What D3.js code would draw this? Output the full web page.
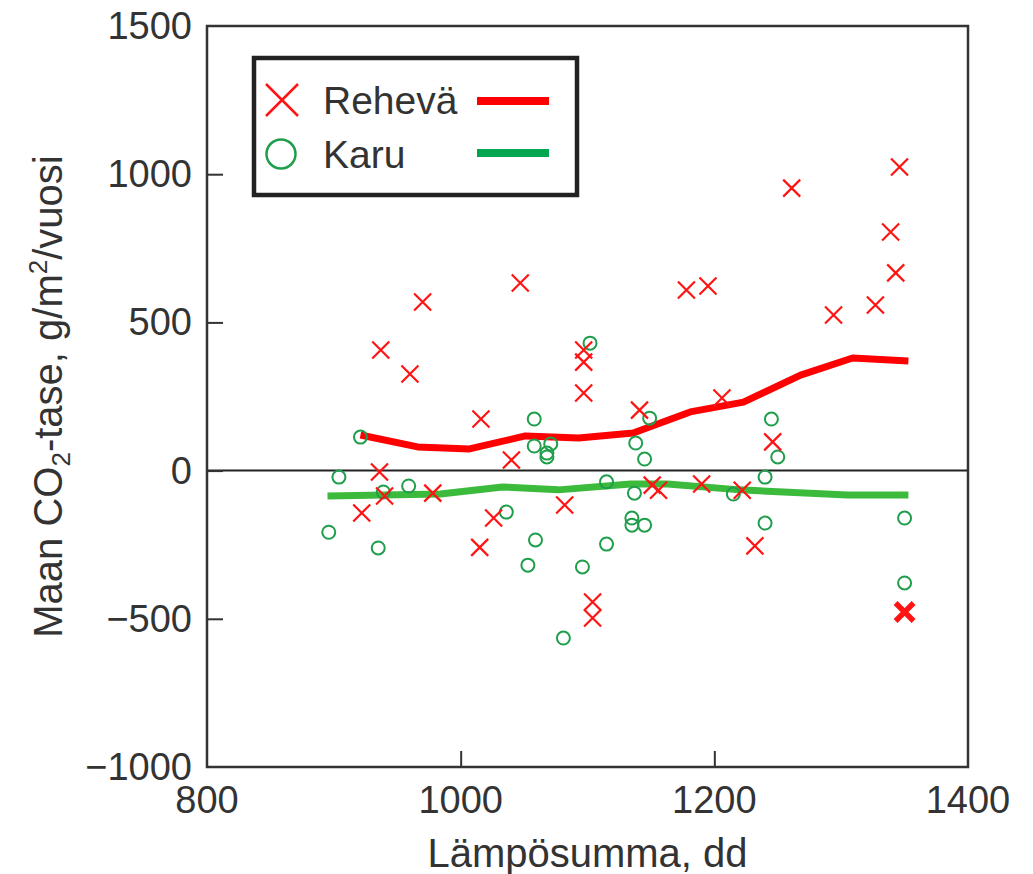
<!DOCTYPE html>
<html>
<head>
<meta charset="utf-8">
<script src="https://cdn.jsdelivr.net/npm/d3@7"></script>
<style>
  html, body { margin: 0; padding: 0; background: #fff; }
  svg { display: block; }
  text { font-family: "Liberation Sans", Arial, sans-serif; fill: #333; }
</style>
</head>
<body>
<svg id="chart" width="1033" height="874"></svg>
<script>
// ---- data ----
const xTicks = [800, 1000, 1200, 1400];
const yTicks = [-1000, -500, 0, 500, 1000, 1500];
const seriesNames = ["Rehevä", "Karu"];

// Rehevä points (x = Lämpösumma dd, y = CO2-tase)
const rehevaX = [922, 937, 936, 940, 960, 970, 978, 1016, 1015, 1026, 1040, 1047, 1082, 1097, 1097, 1097, 1104, 1104, 1141, 1151, 1156, 1178, 1195, 1206, 1190, 1222, 1232, 1246, 1261, 1294, 1327, 1339, 1343, 1346];
const rehevaY = [-143, 407, -5, -86, 326, 569, -76, 174, -259, -160, 36, 633, -116, 407, 366, 262, -443, -497, 204, -49, -66, 609, 623, 245, -45, -66, -254, 97, 953, 525, 559, 805, 667, 1024];
// highlighted (bold) Rehevä point
const rehevaBoldX = [1350];
const rehevaBoldY = [-477];

// Karu points
const karuX = [921, 904, 896, 935, 939, 959, 1036, 1058, 1058, 1071, 1068, 1068, 1059, 1053, 1081, 1096, 1102, 1115, 1115, 1138, 1149, 1145, 1137, 1135, 1135, 1145, 1215, 1240, 1240, 1245, 1250, 1350, 1350];
const karuY = [113, -22, -208, -261, -72, -52, -140, 174, 83, 90, 59, 46, -234, -319, -565, -325, 430, -38, -248, 93, 177, 39, -76, -160, -184, -184, -79, -22, -177, 174, 46, -160, -379];

// trend lines
const rehevaLineX = [921, 966, 1007, 1051, 1093, 1136, 1181, 1223, 1268, 1309, 1353];
const rehevaLineY = [120, 80, 73, 117, 110, 127, 198, 231, 322, 380, 370];
const karuLineX = [895, 984, 1033, 1077, 1134, 1163, 1220, 1305, 1353];
const karuLineY = [-86, -79, -55, -65, -45, -45, -65, -82, -82];

// ---- layout ----
const svg = d3.select("#chart");
const L = 207, R = 968, T = 26, B = 767;
const x = d3.scaleLinear().domain([800, 1400]).range([L, R]);
const y = d3.scaleLinear().domain([-1000, 1500]).range([B, T]);

const red = "#ff1414", redLine = "#ff0000";
const green = "#1f9e4c", greenLine = "#3cba3c", greenLegend = "#00a650";

// zero line
svg.append("line")
  .attr("x1", L).attr("x2", R).attr("y1", y(0)).attr("y2", y(0))
  .attr("stroke", "#222").attr("stroke-width", 2);

// inner ticks via axes
const yAxis = d3.axisRight(y).tickValues([-500, 0, 500, 1000]).tickSize(16).tickFormat("");
const gy = svg.append("g").attr("transform", `translate(${L},0)`).call(yAxis);
gy.select(".domain").remove();
gy.selectAll(".tick line").attr("stroke", "#333").attr("stroke-width", 2);

const xAxis = d3.axisTop(x).tickValues([1000, 1200]).tickSize(16).tickFormat("");
const gx = svg.append("g").attr("transform", `translate(0,${B})`).call(xAxis);
gx.select(".domain").remove();
gx.selectAll(".tick line").attr("stroke", "#333").attr("stroke-width", 2);

// tick labels
svg.append("g").selectAll("text").data(yTicks).join("text")
  .attr("x", 192).attr("y", d => y(d) + 13)
  .attr("text-anchor", "end").attr("font-size", 38)
  .text(d => d < 0 ? "\u2212" + Math.abs(d) : d);

svg.append("g").selectAll("text").data(xTicks).join("text")
  .attr("x", d => x(d)).attr("y", 813)
  .attr("text-anchor", "middle").attr("font-size", 38)
  .text(d => d);

// axis titles
svg.append("text")
  .attr("x", (L + R) / 2).attr("y", 867)
  .attr("text-anchor", "middle").attr("font-size", 40)
  .text("Lämpösumma, dd");

const yt = svg.append("text")
  .attr("transform", `translate(62,${(T + B) / 2}) rotate(-90)`)
  .attr("text-anchor", "middle").attr("font-size", 40);
yt.append("tspan").text("Maan CO");
yt.append("tspan").attr("font-size", 26).attr("dy", 8).text("2");
yt.append("tspan").attr("dy", -8).text("-tase, g/m");
yt.append("tspan").attr("font-size", 26).attr("dy", -15).text("2");
yt.append("tspan").attr("dy", 15).text("/vuosi");

// trend lines
const line = d3.line().x(d => x(d[0])).y(d => y(d[1])).curve(d3.curveLinear);
svg.append("path").datum(d3.zip(karuLineX, karuLineY))
  .attr("d", line).attr("fill", "none").attr("stroke", greenLine)
  .attr("stroke-width", 7).attr("stroke-linejoin", "round").attr("stroke-linecap", "butt");
svg.append("path").datum(d3.zip(rehevaLineX, rehevaLineY))
  .attr("d", line).attr("fill", "none").attr("stroke", redLine)
  .attr("stroke-width", 7).attr("stroke-linejoin", "round").attr("stroke-linecap", "butt");

// markers
function crossPath(cx, cy, h) {
  return `M${cx - h},${cy - h}L${cx + h},${cy + h}M${cx - h},${cy + h}L${cx + h},${cy - h}`;
}
svg.append("g").selectAll("circle").data(d3.zip(karuX, karuY)).join("circle")
  .attr("cx", d => x(d[0])).attr("cy", d => y(d[1])).attr("r", 6.5)
  .attr("fill", "none").attr("stroke", green).attr("stroke-width", 2);

svg.append("g").selectAll("path").data(d3.zip(rehevaX, rehevaY)).join("path")
  .attr("d", d => crossPath(x(d[0]), y(d[1]), 8.5))
  .attr("fill", "none").attr("stroke", red).attr("stroke-width", 2.2);

svg.append("g").selectAll("path").data(d3.zip(rehevaBoldX, rehevaBoldY)).join("path")
  .attr("d", d => crossPath(x(d[0]), y(d[1]), 9))
  .attr("fill", "none").attr("stroke", red).attr("stroke-width", 5.5);

// frame
svg.append("rect").attr("x", L).attr("y", T).attr("width", R - L).attr("height", B - T)
  .attr("fill", "none").attr("stroke", "#333").attr("stroke-width", 2.5);

// legend
const lg = svg.append("g");
lg.append("rect").attr("x", 254).attr("y", 58).attr("width", 323).attr("height", 137)
  .attr("fill", "#fff").attr("stroke", "#222").attr("stroke-width", 4.5);
lg.append("path").attr("d", crossPath(282, 100, 16))
  .attr("fill", "none").attr("stroke", red).attr("stroke-width", 2.5);
lg.append("circle").attr("cx", 281).attr("cy", 154).attr("r", 14.5)
  .attr("fill", "none").attr("stroke", green).attr("stroke-width", 2.5);
lg.append("text").attr("x", 323).attr("y", 114).attr("font-size", 39).text(seriesNames[0]);
lg.append("text").attr("x", 323).attr("y", 168).attr("font-size", 39).text(seriesNames[1]);
lg.append("line").attr("x1", 477).attr("x2", 549).attr("y1", 101).attr("y2", 101)
  .attr("stroke", redLine).attr("stroke-width", 8);
lg.append("line").attr("x1", 477).attr("x2", 549).attr("y1", 153).attr("y2", 153)
  .attr("stroke", greenLegend).attr("stroke-width", 8);
</script>
</body>
</html>
